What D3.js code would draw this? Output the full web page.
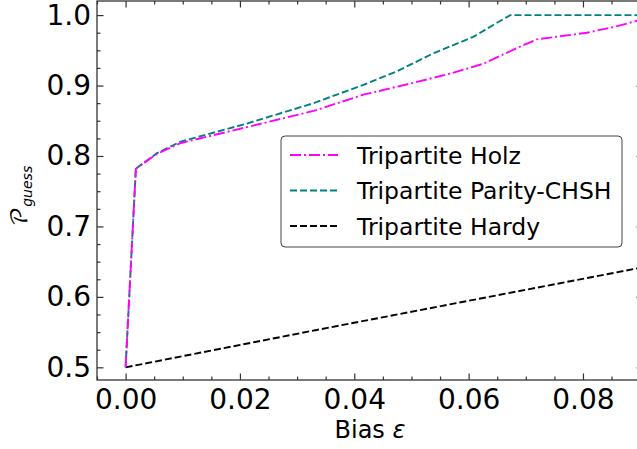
<!DOCTYPE html>
<html><head><meta charset="utf-8">
<script src="https://cdn.jsdelivr.net/npm/d3@7"></script>
<style>body{margin:0;background:#fff} svg{display:block} text{font-family:"DejaVu Sans",sans-serif}</style>
</head><body>
<svg id="c" width="637" height="449"></svg>
<script>
// ---- data ----
const holzEps = [0, 0.0018, 0.0055, 0.0095, 0.0212, 0.0329, 0.0416, 0.0504, 0.0568, 0.0626, 0.0684, 0.0719, 0.0807, 0.0853, 0.0905];
const holzP   = [0.5, 0.782, 0.803, 0.818, 0.841, 0.864, 0.887, 0.904, 0.917, 0.931, 0.953, 0.9655, 0.975, 0.983, 0.994];
const parityEps = [0, 0.0018, 0.0055, 0.0095, 0.0212, 0.0329, 0.0416, 0.0474, 0.0539, 0.0608, 0.0643, 0.0673, 0.0905];
const parityP   = [0.5, 0.782, 0.804, 0.820, 0.846, 0.875, 0.901, 0.920, 0.946, 0.969, 0.986, 1.0, 1.0];
const hardyEps = [0, 0.0334, 0.0905];
const hardyP   = [0.5, 0.553, 0.642];
const xTicks = [0, 0.02, 0.04, 0.06, 0.08];
const yTicks = [0.5, 0.6, 0.7, 0.8, 0.9, 1.0];
const xTickLabels = ["0.00", "0.02", "0.04", "0.06", "0.08"];
const yTickLabels = ["0.5", "0.6", "0.7", "0.8", "0.9", "1.0"];
const seriesNames = ["Tripartite Holz", "Tripartite Parity-CHSH", "Tripartite Hardy"];
const seriesColors = ["#ff00ff", "#008080", "#000000"];

// ---- layout ----
const L = 97, R = 643, T = 1, B = 380;
const svg = d3.select("#c");
const x = d3.scaleLinear().domain([-0.005, 0.0905]).range([L, R]);
const y = d3.scaleLinear().domain([0.482, 1.02]).range([B, T]);
const spineCol = "#333";

svg.append("defs").append("clipPath").attr("id", "clip")
  .append("rect").attr("x", L).attr("y", T).attr("width", R - L).attr("height", B - T);

// minor ticks
const xMinor = d3.range(-0.005, 0.0906, 0.005).map(v => +v.toFixed(4)).filter(v => !xTicks.some(t => Math.abs(t - v) < 1e-6));
const yMinor = d3.range(0.5, 1.001, 0.025).map(v => +v.toFixed(4)).filter(v => !yTicks.some(t => Math.abs(t - v) < 1e-6));

function styleAxis(g) {
  g.select(".domain").remove();
  g.selectAll(".tick line").attr("stroke", spineCol).attr("stroke-width", 1.2);
  g.selectAll(".tick text").attr("fill", "#000").style("font-size", "28px").style("font-family", "DejaVu Sans");
}

// bottom
svg.append("g").attr("transform", `translate(0,${B})`)
  .call(d3.axisBottom(x).tickValues(xTicks).tickFormat((d, i) => xTickLabels[i]).tickSizeInner(-6.5).tickSizeOuter(0).tickPadding(9))
  .call(styleAxis);
svg.append("g").attr("transform", `translate(0,${B})`)
  .call(d3.axisBottom(x).tickValues(xMinor).tickFormat("").tickSizeInner(-3.5).tickSizeOuter(0))
  .call(styleAxis);
// top
svg.append("g").attr("transform", `translate(0,${T})`)
  .call(d3.axisTop(x).tickValues(xTicks).tickFormat("").tickSizeInner(-6.5).tickSizeOuter(0))
  .call(styleAxis);
svg.append("g").attr("transform", `translate(0,${T})`)
  .call(d3.axisTop(x).tickValues(xMinor).tickFormat("").tickSizeInner(-3.5).tickSizeOuter(0))
  .call(styleAxis);
// left
svg.append("g").attr("transform", `translate(${L},0)`)
  .call(d3.axisLeft(y).tickValues(yTicks).tickFormat((d, i) => yTickLabels[i]).tickSizeInner(-6.5).tickSizeOuter(0).tickPadding(6))
  .call(styleAxis);
svg.append("g").attr("transform", `translate(${L},0)`)
  .call(d3.axisLeft(y).tickValues(yMinor).tickFormat("").tickSizeInner(-3.5).tickSizeOuter(0))
  .call(styleAxis);
// right (off-canvas)
svg.append("g").attr("transform", `translate(${R},0)`)
  .call(d3.axisRight(y).tickValues(yTicks).tickFormat("").tickSizeInner(-6.5).tickSizeOuter(0))
  .call(styleAxis);

// spines
svg.append("rect").attr("x", L).attr("y", T).attr("width", R - L).attr("height", B - T)
  .attr("fill", "none").attr("stroke", spineCol).attr("stroke-width", 1.3);

// lines
const line = d3.line().x(d => x(d[0])).y(d => y(d[1]));
const series = [
  { pts: holzEps.map((e, i) => [e, holzP[i]]), dash: "11,3,2,3" },
  { pts: parityEps.map((e, i) => [e, parityP[i]]), dash: "7,3" },
  { pts: hardyEps.map((e, i) => [e, hardyP[i]]), dash: "7,3" }
];
const plot = svg.append("g").attr("clip-path", "url(#clip)");
[2, 1, 0].forEach(i => {
  plot.append("path").attr("d", line(series[i].pts)).attr("fill", "none")
    .attr("stroke", seriesColors[i]).attr("stroke-width", 1.9)
    .attr("stroke-dasharray", series[i].dash);
});

// legend
const lg = svg.append("g");
lg.append("rect").attr("x", 281).attr("y", 136).attr("width", 341).attr("height", 111).attr("rx", 4)
  .attr("fill", "#fff").attr("stroke", "#444").attr("stroke-width", 1);
seriesNames.forEach((n, i) => {
  const ry = 155 + i * 35.5;
  lg.append("line").attr("x1", 290).attr("x2", 338).attr("y1", ry).attr("y2", ry)
    .attr("stroke", seriesColors[i]).attr("stroke-width", 1.9).attr("stroke-dasharray", series[i].dash);
  lg.append("text").attr("x", 357).attr("y", ry + 8.5).text(n).style("font-size", "23.5px");
});

// axis labels
svg.append("text").attr("x", (L + R) / 2).attr("y", 438).attr("text-anchor", "middle").style("font-size", "24px")
  .html('Bias <tspan font-style="italic">ε</tspan>');

const yl = svg.append("text").attr("transform", "translate(27,196) rotate(-90)").attr("text-anchor", "middle");
yl.append("tspan").text("𝒫").style("font-size", "23px").style("font-family", "'DejaVu Math TeX Gyre','Noto Sans',serif");
yl.append("tspan").attr("dy", 5).text("guess").style("font-size", "14px").style("font-style", "italic");
</script>
</body></html>
